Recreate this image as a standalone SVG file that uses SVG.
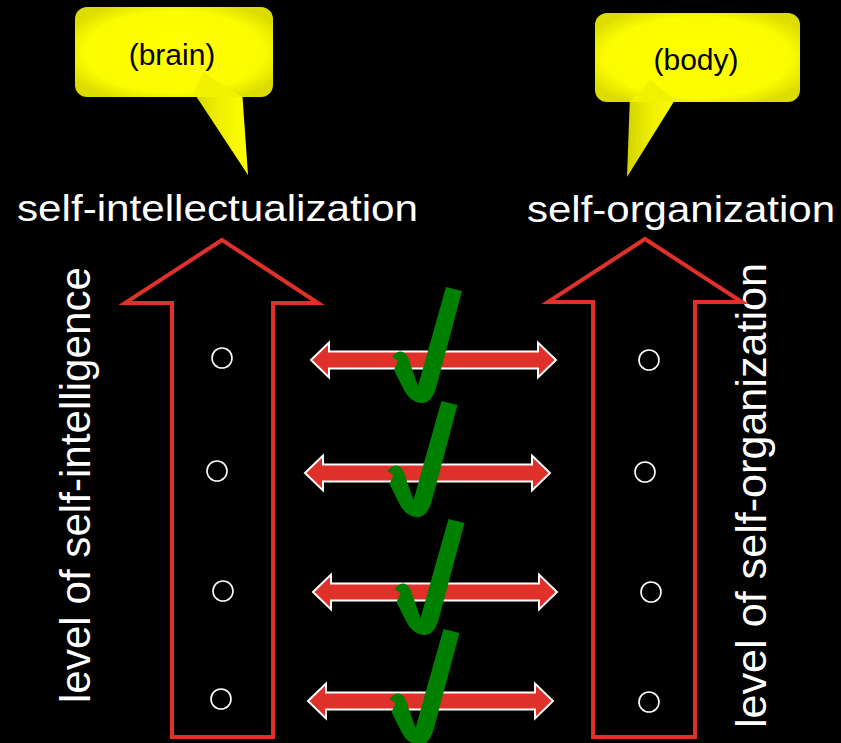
<svg xmlns="http://www.w3.org/2000/svg" width="841" height="743" viewBox="0 0 841 743">
<style>
.lbl{font-family:"Liberation Sans",Arial,sans-serif;fill:#ffffff}
.bt{font-family:"Liberation Sans",Arial,sans-serif;fill:#000000;font-size:30px;text-anchor:middle}
.big{fill:none;stroke:#e0302a;stroke-width:4;stroke-linejoin:miter}
.dot{fill:none;stroke:#ffffff;stroke-width:1.6}
.dbl{fill:#e0302a;stroke:#ffffff;stroke-width:2;stroke-linejoin:miter}
.chk{fill:#008000}
</style>
<defs>
<radialGradient id="yg" cx="0.5" cy="0.5" r="0.6">
<stop offset="0" stop-color="#ffff00"/>
<stop offset="0.75" stop-color="#fcfc00"/>
<stop offset="1" stop-color="#dcdc00"/>
</radialGradient>
<linearGradient id="tg" x1="0" y1="0" x2="1" y2="0">
<stop offset="0" stop-color="#d4d400"/>
<stop offset="0.5" stop-color="#f0f000"/>
<stop offset="1" stop-color="#ffff00"/>
</linearGradient>
<path id="check" d="M446,287 L462,291 L436,388 Q431,404 421,403 Q410,402 404,390 L394,370 L398,361 L392,357 Q398,350 403,352 Q408,354 411,366 L418,386 Z"/>
</defs>
<rect width="841" height="743" fill="#000000"/>

<g id="bubble-brain">
<polygon points="192,90 242,90 248,175" fill="url(#tg)"/>
<rect x="75" y="7" width="198" height="90" rx="12" fill="url(#yg)"/>
<polygon points="203,72 242,97 192,97" fill="#f2f200"/>
<text class="bt" x="172" y="65">(brain)</text>
</g>

<g id="bubble-body">
<polygon points="630,95 678,95 627,177" fill="url(#tg)"/>
<rect x="595" y="13" width="205" height="89" rx="12" fill="url(#yg)"/>
<polygon points="650,80 678,102 630,102" fill="#f2f200"/>
<text class="bt" x="696" y="70">(body)</text>
</g>

<g id="title-left">
<text class="lbl" x="17" y="221" font-size="37" textLength="401" lengthAdjust="spacingAndGlyphs">self-intellectualization</text>
</g>
<g id="title-right">
<text class="lbl" x="527" y="222" font-size="37" textLength="308" lengthAdjust="spacingAndGlyphs">self-organization</text>
</g>

<g id="axis-left-label">
<text class="lbl" transform="translate(90,703) rotate(-90)" font-size="42" textLength="436" lengthAdjust="spacingAndGlyphs">level of self-intelligence</text>
</g>
<g id="axis-right-label">
<text class="lbl" transform="translate(766,728) rotate(-90)" font-size="43" textLength="465" lengthAdjust="spacingAndGlyphs">level of self-organization</text>
</g>

<g id="arrow-left">
<polygon class="big" points="222,240 318,303 273,303 273,737 172,737 172,303 125,303"/>
<circle class="dot" cx="222" cy="358" r="10"/>
<circle class="dot" cx="217" cy="471" r="10"/>
<circle class="dot" cx="223" cy="591" r="10"/>
<circle class="dot" cx="221" cy="699" r="10"/>
</g>

<g id="arrow-right">
<polygon class="big" points="645,239 742,302 695,302 695,737 593,737 593,302 548,302"/>
<circle class="dot" cx="649" cy="360" r="10"/>
<circle class="dot" cx="645" cy="472" r="10"/>
<circle class="dot" cx="651" cy="592" r="10"/>
<circle class="dot" cx="649" cy="702" r="10"/>
</g>

<g id="connectors">
<path class="dbl" d="M311,360 L329,342.5 L329,351.5 L538,351.5 L538,342.5 L556,360 L538,377.5 L538,368.5 L329,368.5 L329,377.5 Z"/>
<path class="dbl" d="M305,473 L323,455.5 L323,464.5 L532,464.5 L532,455.5 L550,473 L532,490.5 L532,481.5 L323,481.5 L323,490.5 Z"/>
<path class="dbl" d="M313,592 L331,574.5 L331,583.5 L539,583.5 L539,574.5 L557,592 L539,609.5 L539,600.5 L331,600.5 L331,609.5 Z"/>
<path class="dbl" d="M308,701 L326,683.5 L326,692.5 L535,692.5 L535,683.5 L553,701 L535,718.5 L535,709.5 L326,709.5 L326,718.5 Z"/>
</g>

<g id="checks">
<use href="#check" class="chk"/>
<use href="#check" class="chk" transform="translate(-4.5,114)"/>
<use href="#check" class="chk" transform="translate(2.5,232)"/>
<use href="#check" class="chk" transform="translate(-2.5,342)"/>
</g>
</svg>
